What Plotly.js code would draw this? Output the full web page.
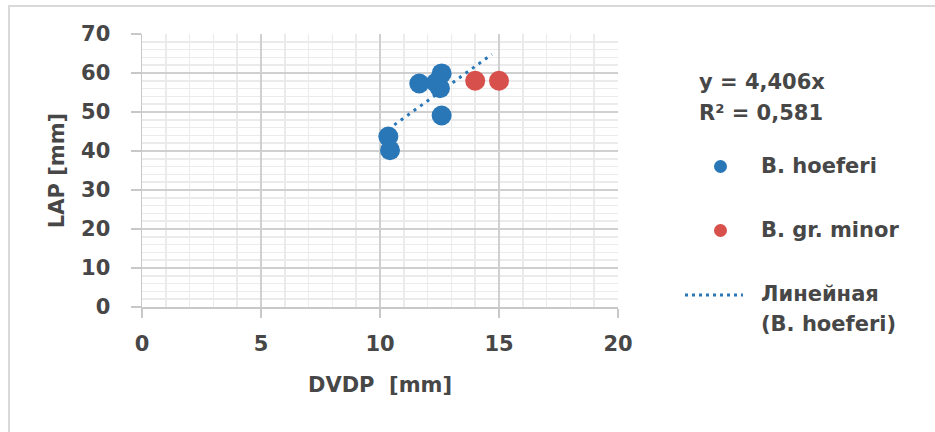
<!DOCTYPE html>
<html>
<head>
<meta charset="utf-8">
<script src="https://cdn.plot.ly/plotly-3.0.1.min.js"></script>
<style>
  html, body { margin: 0; padding: 0; background: #ffffff; }
  #wrap { position: relative; width: 935px; height: 432px; }
  #chart { position: absolute; left: 0; top: 0; width: 935px; height: 432px; }
  #frame { position: absolute; left: 8px; top: 5px; right: 0; bottom: 0;
           border-top: 2px solid #d9d9d9; border-left: 2px solid #d9d9d9; pointer-events: none; }
</style>
</head>
<body>
<div id="wrap">
  <div id="chart"></div>
  <div id="frame"></div>
</div>
<script>
// Data
const hoeferiX = [11.65, 12.59, 12.52, 12.35, 12.59, 10.35, 10.42];
const hoeferiY = [57.3, 59.9, 56.1, 57.5, 49.1, 43.7, 40.2];
const minorX = [14.0, 15.0];
const minorY = [58.0, 58.0];
const trendX = [10.6, 14.7];
const trendY = [46.7, 64.8];
const xTicks = [0, 5, 10, 15, 20];
const yTicks = [0, 10, 20, 30, 40, 50, 60, 70];

const equationText = 'y = 4,406x';
const r2Text = 'R² = 0,581';
const legendNames = ['B. hoeferi', 'B. gr. minor', 'Линейная', '(B. hoeferi)'];

const BLUE = '#2a77b8';
const RED = '#d8504c';
const TXT = '#474747';
const FONT = 'DejaVu Sans, Arial, sans-serif';

const traces = [
  { x: trendX, y: trendY, type: 'scatter', mode: 'lines',
    line: { color: BLUE, width: 3, dash: '3px,5px' }, hoverinfo: 'skip', showlegend: false },
  { x: hoeferiX, y: hoeferiY, type: 'scatter', mode: 'markers', name: legendNames[0],
    marker: { color: BLUE, size: 20 }, showlegend: false },
  { x: minorX, y: minorY, type: 'scatter', mode: 'markers', name: legendNames[1],
    marker: { color: RED, size: 20 }, showlegend: false }
];

function py(p) { return (307 - p) / 273; }
function px(p) { return (p - 142) / 476; }

const annFont = { family: FONT, size: 21, color: TXT, weight: 'bold' };
const annotations = [
  { text: '<b>' + equationText + '</b>', x: px(697), y: py(82) },
  { text: '<b>' + r2Text + '</b>', x: px(697), y: py(113) },
  { text: '<b>' + legendNames[0] + '</b>', x: px(759), y: py(166) },
  { text: '<b>' + legendNames[1] + '</b>', x: px(759), y: py(230) },
  { text: '<b>' + legendNames[2] + '</b>', x: px(759), y: py(294) },
  { text: '<b>' + legendNames[3] + '</b>', x: px(759), y: py(324) }
].map(a => Object.assign({ xref: 'paper', yref: 'paper', xanchor: 'left', yanchor: 'middle',
                           showarrow: false, font: annFont }, a));

const shapes = [
  { type: 'circle', xref: 'paper', yref: 'paper', x0: px(714), x1: px(727), y0: py(160), y1: py(173),
    fillcolor: BLUE, line: { width: 0 } },
  { type: 'circle', xref: 'paper', yref: 'paper', x0: px(714), x1: px(727), y0: py(224), y1: py(237),
    fillcolor: RED, line: { width: 0 } },
  { type: 'line', xref: 'paper', yref: 'paper', x0: px(685), x1: px(743), y0: py(295), y1: py(295),
    line: { color: BLUE, width: 3, dash: '3px,4px' } }
];

const tickFont = { family: FONT, size: 21, color: TXT, weight: 'bold' };
const titleFont = { family: FONT, size: 21, color: TXT, weight: 'bold' };

const layout = {
  width: 935, height: 432,
  margin: { l: 142, r: 317, t: 34, b: 125 },
  paper_bgcolor: 'rgba(0,0,0,0)', plot_bgcolor: '#ffffff',
  showlegend: false,
  xaxis: {
    range: [0, 20], tickvals: xTicks, ticktext: xTicks.map(String),
    showgrid: true, gridcolor: '#d0d0d0', gridwidth: 1.5,
    minor: { dtick: 1, showgrid: true, gridcolor: '#ebebeb', gridwidth: 1.5 },
    showline: true, linecolor: '#c8c8c8', linewidth: 1.5,
    ticks: 'outside', ticklen: 9, tickcolor: '#c8c8c8', tickwidth: 1.5,
    tickfont: tickFont, ticklabelstandoff: 8, zeroline: false,
    title: { text: '<b>DVDP\u00a0 [mm]</b>', font: titleFont, standoff: 22 }
  },
  yaxis: {
    range: [0, 70], tickvals: yTicks, ticktext: yTicks.map(String),
    showgrid: true, gridcolor: '#d0d0d0', gridwidth: 1.5,
    minor: { dtick: 2, showgrid: true, gridcolor: '#ebebeb', gridwidth: 1.5 },
    showline: true, linecolor: '#c8c8c8', linewidth: 1.5,
    ticks: 'outside', ticklen: 10, tickcolor: '#c8c8c8', tickwidth: 1.5,
    tickfont: tickFont, ticklabelstandoff: 16, zeroline: false,
    title: { text: '<b>LAP [mm]</b>', font: titleFont, standoff: 10 }
  },
  annotations: annotations,
  shapes: shapes
};

Plotly.newPlot('chart', traces, layout, { displayModeBar: false, staticPlot: true });
</script>
</body>
</html>
